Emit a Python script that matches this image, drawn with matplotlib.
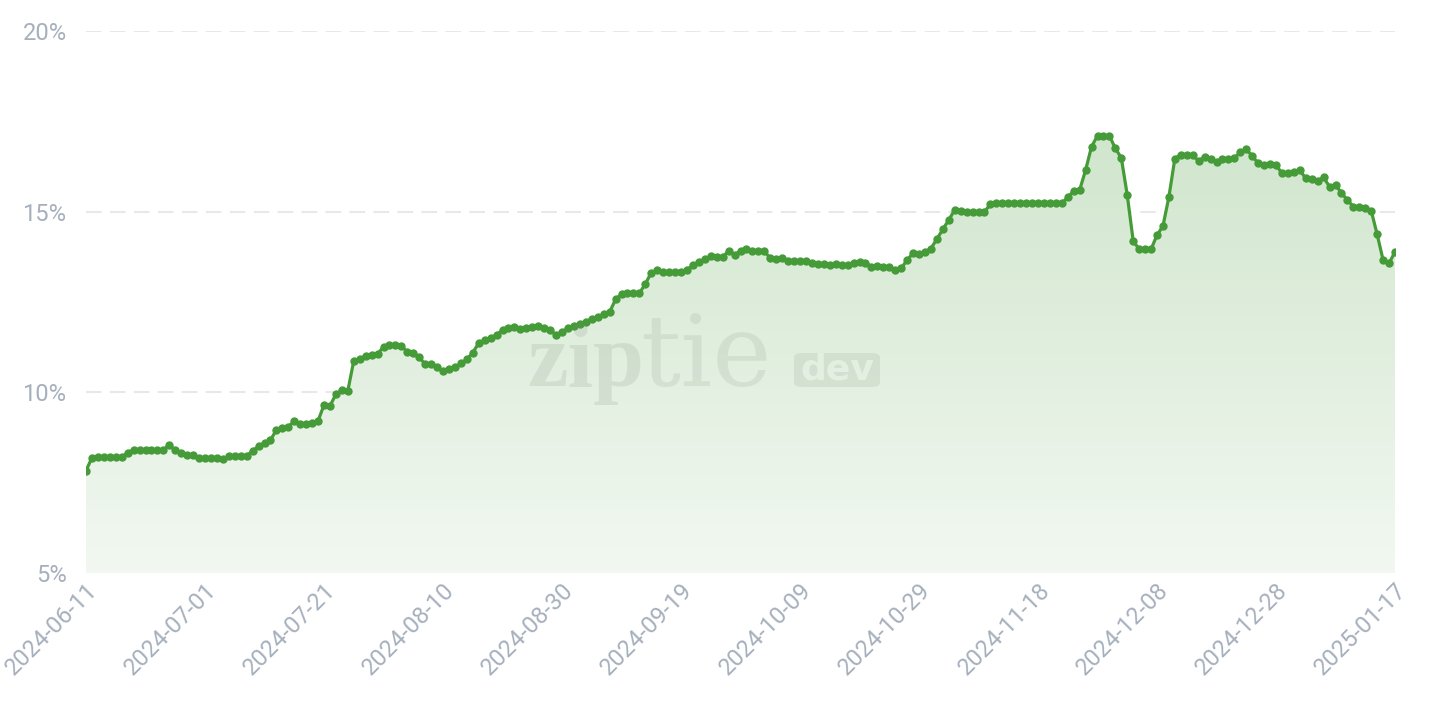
import numpy as np
import pandas as pd
import matplotlib
matplotlib.use("Agg")
import matplotlib.pyplot as plt
import matplotlib.dates as mdates
from matplotlib.patches import FancyBboxPatch
from matplotlib.colors import to_rgb

# daily share (%) starting 2024-06-11
start_date = "2024-06-11"
share = [
    7.83, 8.19, 8.20, 8.20, 8.20, 8.20, 8.20, 8.33, 8.41, 8.41,
    8.41, 8.41, 8.41, 8.41, 8.54, 8.40, 8.31, 8.26, 8.26, 8.17,
    8.17, 8.17, 8.17, 8.15, 8.24, 8.24, 8.24, 8.24, 8.38, 8.51,
    8.60, 8.68, 8.96, 9.02, 9.05, 9.20, 9.11, 9.12, 9.14, 9.21,
    9.65, 9.62, 9.95, 10.06, 10.04, 10.87, 10.93, 11.00, 11.02, 11.06,
    11.26, 11.30, 11.31, 11.28, 11.12, 11.10, 10.97, 10.78, 10.78, 10.69,
    10.58, 10.64, 10.69, 10.80, 10.91, 11.10, 11.36, 11.45, 11.49, 11.60,
    11.72, 11.79, 11.82, 11.74, 11.77, 11.82, 11.83, 11.78, 11.72, 11.59,
    11.68, 11.77, 11.84, 11.89, 11.95, 12.03, 12.09, 12.16, 12.22, 12.57,
    12.72, 12.76, 12.76, 12.74, 13.00, 13.31, 13.39, 13.34, 13.32, 13.32,
    13.32, 13.39, 13.52, 13.60, 13.69, 13.77, 13.75, 13.75, 13.91, 13.80,
    13.92, 13.97, 13.91, 13.91, 13.91, 13.71, 13.69, 13.71, 13.63, 13.63,
    13.64, 13.63, 13.57, 13.54, 13.55, 13.52, 13.55, 13.53, 13.53, 13.57,
    13.62, 13.59, 13.48, 13.50, 13.46, 13.46, 13.38, 13.43, 13.66, 13.85,
    13.82, 13.89, 13.98, 14.24, 14.51, 14.77, 15.05, 15.03, 15.00, 15.00,
    15.00, 15.00, 15.20, 15.23, 15.23, 15.23, 15.23, 15.23, 15.23, 15.23,
    15.23, 15.23, 15.23, 15.23, 15.23, 15.40, 15.57, 15.60, 16.15, 16.80,
    17.10, 17.10, 17.10, 16.75, 16.49, 15.46, 14.19, 13.96, 13.96, 13.96,
    14.35, 14.60, 15.41, 16.47, 16.58, 16.58, 16.57, 16.40, 16.52, 16.45,
    16.38, 16.45, 16.47, 16.49, 16.64, 16.73, 16.54, 16.34, 16.29, 16.31,
    16.29, 16.06, 16.06, 16.09, 16.15, 15.92, 15.90, 15.86, 15.95, 15.69,
    15.74, 15.52, 15.32, 15.14, 15.12, 15.11, 15.03, 14.37, 13.66, 13.57,
    13.89,
]
y_ticks = [5, 10, 15, 20]
tick_step_days = 20

dates = pd.date_range(start_date, periods=len(share), freq="D")
x = mdates.date2num(dates)
y = np.array(share)

green = "#459b38"
label_col = "#a6b0bd"

fig = plt.figure(figsize=(14.36, 7.26), dpi=100)
ax = fig.add_axes([86/1436, 1-573/726, (1395-86)/1436, (573-31)/726])

# grid
for t in y_ticks:
    ax.axhline(t, color="#e8e8e8", lw=1.5, ls=(0, (7.5, 4)), zorder=0)

# gradient area under the line, clipped to the fill polygon
poly = ax.fill_between(x, y, 5, color="none", lw=0)
rgb = np.array(to_rgb(green))
alphas = np.linspace(0.25, 0.07, 256)[:, None, None]
grad = np.ones((256, 1, 4))
grad[..., :3] = 1 - alphas * (1 - rgb[None, None, :])
img = ax.imshow(grad, aspect="auto", extent=[x[0], x[-1], 5, y.max()],
                origin="upper", zorder=1, interpolation="bilinear")
img.set_clip_path(poly.get_paths()[0], transform=ax.transData)

ax.plot(x, y, color=green, lw=2.3, marker="o", ms=5, zorder=4)

ax.set_xlim(x[0], x[-1])
ax.set_ylim(5, 20)
ax.autoscale(False)

# watermark
wm = "#7f8f7c"
fig.text(527/1436, 1-386/726, "zip", fontsize=66, fontweight="bold",
         family="Liberation Serif", color=wm, alpha=0.17, zorder=2)
fig.text(640/1436, 1-386/726, "tie", fontsize=72, fontweight="light",
         family="DejaVu Serif", color=wm, alpha=0.15, zorder=2)
box = FancyBboxPatch((794/1436, 1-387/726), 86/1436, 34/726,
                     boxstyle="round,pad=0,rounding_size=0.006",
                     transform=fig.transFigure, fc=wm, ec="none", alpha=0.15, zorder=2)
fig.patches.append(box)
fig.text(837/1436, 1-369/726, "dev", fontsize=26, fontweight="bold",
         family="DejaVu Sans", color="#e3efe0", ha="center", va="center")

# axes styling
for s in ax.spines.values():
    s.set_visible(False)
ax.set_yticks(y_ticks)
ax.set_yticklabels([f"{t}%" for t in y_ticks])
ax.set_xticks(x[::tick_step_days])
ax.set_xticklabels([d.strftime("%Y-%m-%d") for d in dates[::tick_step_days]])
ax.tick_params(axis="both", length=0, colors=label_col, labelsize=17)
ax.tick_params(axis="y", pad=14)
ax.tick_params(axis="x", pad=4)
for lab in ax.get_xticklabels():
    lab.set_rotation(45)
    lab.set_ha("right")
    lab.set_va("top")
    lab.set_rotation_mode("anchor")
for lab in ax.get_xticklabels() + ax.get_yticklabels():
    lab.set_family("Roboto")

fig.savefig("out.png", dpi=100)
